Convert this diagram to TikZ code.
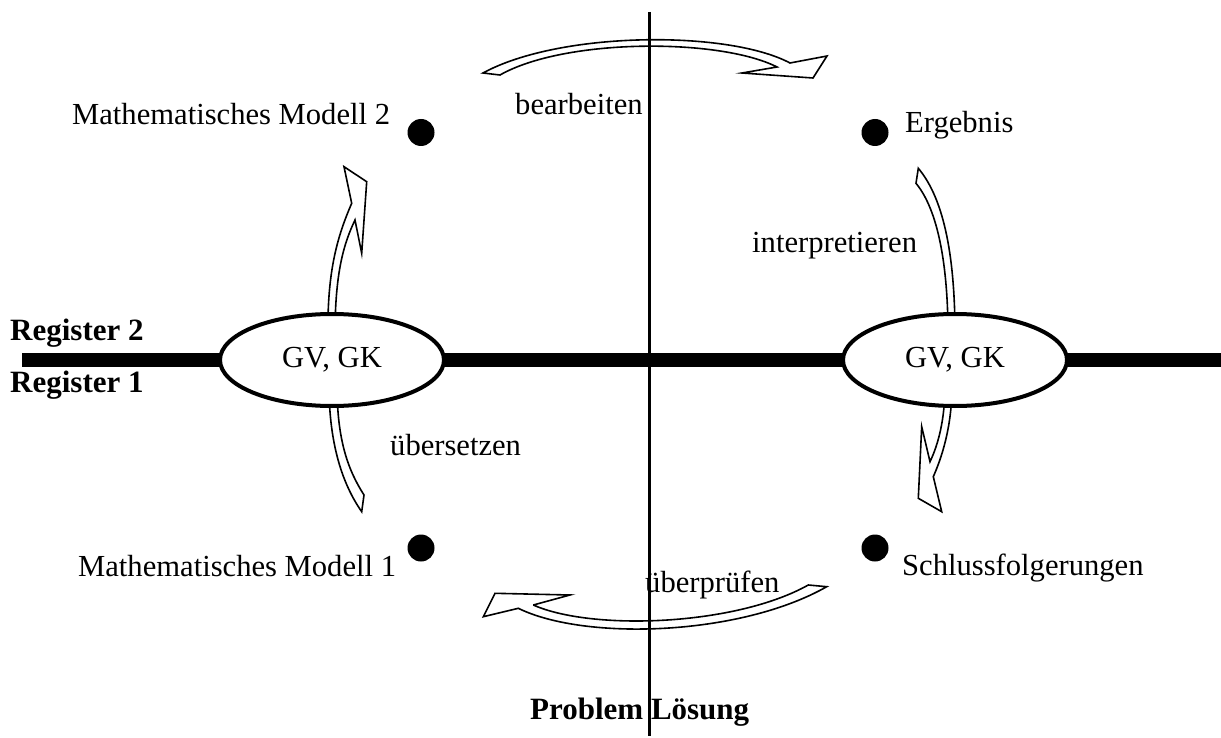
\documentclass[tikz,border=0pt]{standalone}
\usepackage{fontspec}
\setmainfont{Liberation Serif}
\usetikzlibrary{shapes.geometric}
\begin{document}
\begin{tikzpicture}[x=1pt,y=-1pt]
\tikzset{
  hollow/.style={draw=black, fill=white, line width=1.6pt, line join=miter, miter limit=10},
  regellipse/.style={ellipse, draw=black, fill=white, line width=4pt, minimum width=224pt, minimum height=92pt, inner sep=0pt},
  bigdot/.style={circle, fill=black, minimum size=27pt, inner sep=0pt},
  lbl/.style={inner sep=0pt, font=\fontsize{30.6}{37}\selectfont, text height=21pt, text depth=7pt},
  blbl/.style={lbl, font=\fontsize{31}{37}\selectfont\bfseries}
}
\useasboundingbox (0,0) rectangle (1221,738);
% top arrow (bearbeiten)
\draw[hollow] (483,73) .. controls (560,31) and (728,30) .. (790,63)
  -- (827,56) -- (813,78) -- (742,73) -- (777,67)
  .. controls (720,38) and (565,38) .. (500,75) -- cycle;
% left upper arrow (head)
\draw[hollow] (328,335) .. controls (327,270) and (338,235) .. (351.7,203.3)
  -- (344,166.7) -- (366.7,181.7) -- (361.7,253.3) -- (355,220)
  .. controls (343,245) and (335,275) .. (335,335) -- cycle;
% left lower arrow (tail)
\draw[hollow] (329,385) .. controls (329,445) and (343,485) .. (361.7,511.7)
  -- (364,495) .. controls (348,470) and (337,440) .. (337,385) -- cycle;
% right upper arrow (tail)
\draw[hollow] (918.3,168.3) .. controls (945,200) and (955,260) .. (955,335)
  -- (948,335) .. controls (948,265) and (938,210) .. (916,183.3) -- cycle;
% right lower arrow (head)
\draw[hollow] (945,385) .. controls (945,420) and (938,445) .. (930,461.7)
  -- (921.7,426.7) -- (918.3,498.3) -- (941.7,511.7) -- (933.3,476.7)
  .. controls (945,450) and (952,420) .. (952,385) -- cycle;
% bottom arrow (ueberpruefen)
\draw[hollow] (533.3,605) -- (570,595) -- (495,593.3) -- (483.3,616.7) -- (518.3,608.3)
  .. controls (585,641) and (740,636) .. (826.7,586.7)
  -- (808.3,585)
  .. controls (735,626) and (592,631) .. (533.3,605);
% axes
\coordinate (vtop) at (649,12);
\coordinate (vbot) at (649,736);
\coordinate (hleft) at (22,360);
\coordinate (hright) at (1221,360);
\draw[line width=3pt] (vtop) -- (vbot);
\draw[line width=14.5pt] (hleft) -- (hright);
% ellipses
\node[regellipse] (gl) at (332,360) {};
\node[regellipse] (gr) at (955,360) {};
\node[lbl] at (gl.center) {GV, GK};
\node[lbl] at (gr.center) {GV, GK};
% dots
\node[bigdot] (m2) at (421,132.5) {};
\node[bigdot] (erg) at (875,132.5) {};
\node[bigdot] (m1) at (421,548) {};
\node[bigdot] (sch) at (875,548) {};
% labels
\node[lbl, anchor=west] (tm2) at (72,118) {Mathematisches Modell 2};
\node[lbl, anchor=west] (terg) at (905,126) {Ergebnis};
\node[lbl, anchor=west] (tm1) at (78,569) {Mathematisches Modell 1};
\node[lbl, anchor=west] (tsch) at (902,568) {Schlussfolgerungen};
\node[lbl, anchor=west] (tbe) at (515,108) {bearbeiten};
\node[lbl, anchor=west] (tint) at (752,246) {interpretieren};
\node[lbl, anchor=west] (tueb) at (390,448) {übersetzen};
\node[lbl, anchor=west] (tpr) at (645,585) {überprüfen};
\node[blbl, anchor=west] (tr2) at (10,333) {Register 2};
\node[blbl, anchor=west] (tr1) at (10,385) {Register 1};
\node[blbl, anchor=west] (tpl) at (530,712) {Problem Lösung};
\end{tikzpicture}
\end{document}
